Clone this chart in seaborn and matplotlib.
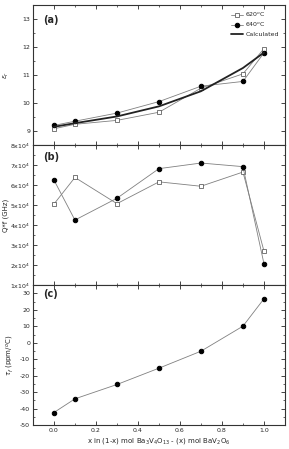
import pandas as pd
import seaborn as sns
import matplotlib.pyplot as plt
from matplotlib.ticker import MultipleLocator, FuncFormatter

# composition x
x = [0.0, 0.1, 0.3, 0.5, 0.7, 0.9, 1.0]

# (a) dielectric constant
er_620 = [9.08, 9.24, 9.38, 9.67, 10.53, 11.04, 11.94]
er_640 = [9.20, 9.35, 9.64, 10.05, 10.60, 10.77, 11.79]
er_calc = [9.15, 9.28, 9.52, 9.88, 10.42, 11.25, 11.80]

# (b) Q x f (GHz)
qf_620 = [50500, 63800, 50700, 61600, 59400, 66500, 27000]
qf_640 = [62500, 42500, 53400, 68200, 71000, 69200, 20700]

# (c) tau_f (ppm/C)
tf_640 = [-42.3, -34.0, -25.3, -15.4, -5.1, 10.1, 26.7]

df = pd.DataFrame({"x": x, "er_620": er_620, "er_640": er_640, "er_calc": er_calc,
                   "qf_620": qf_620, "qf_640": qf_640, "tf_640": tf_640})

sns.set_style("ticks")
plt.rcParams['font.family'] = ['DejaVu Sans']
plt.rcParams['font.size'] = 5
plt.rcParams['axes.unicode_minus'] = False

fig, axes = plt.subplots(3, 1, figsize=(2.89, 4.49), dpi=100, sharex=True)
fig.subplots_adjust(left=0.114, right=0.986, top=0.989, bottom=0.053, hspace=0)

grey = "#808080"
open_kw = dict(marker="s", markersize=3, markerfacecolor="white", markeredgecolor="#444444",
               markeredgewidth=0.5)
fill_kw = dict(marker="o", markersize=3.2, markerfacecolor="black", markeredgecolor="black")

# (a)
ax = axes[0]
sns.lineplot(data=df, x="x", y="er_620", ax=ax, color=grey, lw=0.6, label="620$^o$C", **open_kw)
sns.lineplot(data=df, x="x", y="er_640", ax=ax, color=grey, lw=0.6, label="640$^o$C", **fill_kw)
sns.lineplot(data=df, x="x", y="er_calc", ax=ax, color="#222222", lw=1.3, label="Calculated")
ax.set_ylim(8.5, 13.5)
ax.yaxis.set_major_locator(MultipleLocator(1))
ax.yaxis.set_minor_locator(MultipleLocator(0.5))
ax.set_ylabel(r"$\varepsilon_r$", fontsize=5, labelpad=8)
ax.legend(loc="upper right", frameon=False, fontsize=4.5, handlelength=2.0,
          handletextpad=0.3, labelspacing=0.3, borderaxespad=0.6)
ax.text(0.04, 0.93, "(a)", transform=ax.transAxes, fontsize=7, fontweight="bold", va="top")

# (b)
ax = axes[1]
sns.lineplot(data=df, x="x", y="qf_620", ax=ax, color=grey, lw=0.6, **open_kw)
sns.lineplot(data=df, x="x", y="qf_640", ax=ax, color=grey, lw=0.6, **fill_kw)
ax.set_ylim(10000, 80000)
ax.yaxis.set_major_locator(MultipleLocator(10000))
ax.yaxis.set_minor_locator(MultipleLocator(5000))
ax.yaxis.set_major_formatter(FuncFormatter(lambda v, p: r"%dx10$^4$" % round(v / 10000)))
ax.set_ylabel("Q*f (GHz)", fontsize=5, labelpad=1)
ax.text(0.04, 0.95, "(b)", transform=ax.transAxes, fontsize=7, fontweight="bold", va="top")

# (c)
ax = axes[2]
sns.lineplot(data=df, x="x", y="tf_640", ax=ax, color=grey, lw=0.6, **fill_kw)
ax.set_ylim(-50, 35)
ax.yaxis.set_major_locator(MultipleLocator(10))
ax.yaxis.set_minor_locator(MultipleLocator(5))
ax.set_ylabel(r"$\tau_f$ (ppm/$^o$C)", fontsize=5, labelpad=3)
ax.text(0.04, 0.97, "(c)", transform=ax.transAxes, fontsize=7, fontweight="bold", va="top")

ax.set_xlim(-0.1, 1.1)
ax.xaxis.set_major_locator(MultipleLocator(0.2))
ax.xaxis.set_minor_locator(MultipleLocator(0.1))
ax.xaxis.set_major_formatter(FuncFormatter(lambda v, p: "%.1f" % v))
ax.set_xlabel(r"x in (1-x) mol Ba$_3$V$_4$O$_{13}$ - (x) mol BaV$_2$O$_6$", fontsize=5, labelpad=2)

for a in axes:
    a.tick_params(which="both", direction="in", top=True, right=True, labelsize=4.5, pad=2)
    a.tick_params(which="major", length=3, width=0.6)
    a.tick_params(which="minor", length=1.5, width=0.5)
    for s in a.spines.values():
        s.set_linewidth(0.8)
        s.set_color("#333333")
    if a is not axes[2]:
        a.set_xlabel("")

fig.savefig("out.png", dpi=100)
